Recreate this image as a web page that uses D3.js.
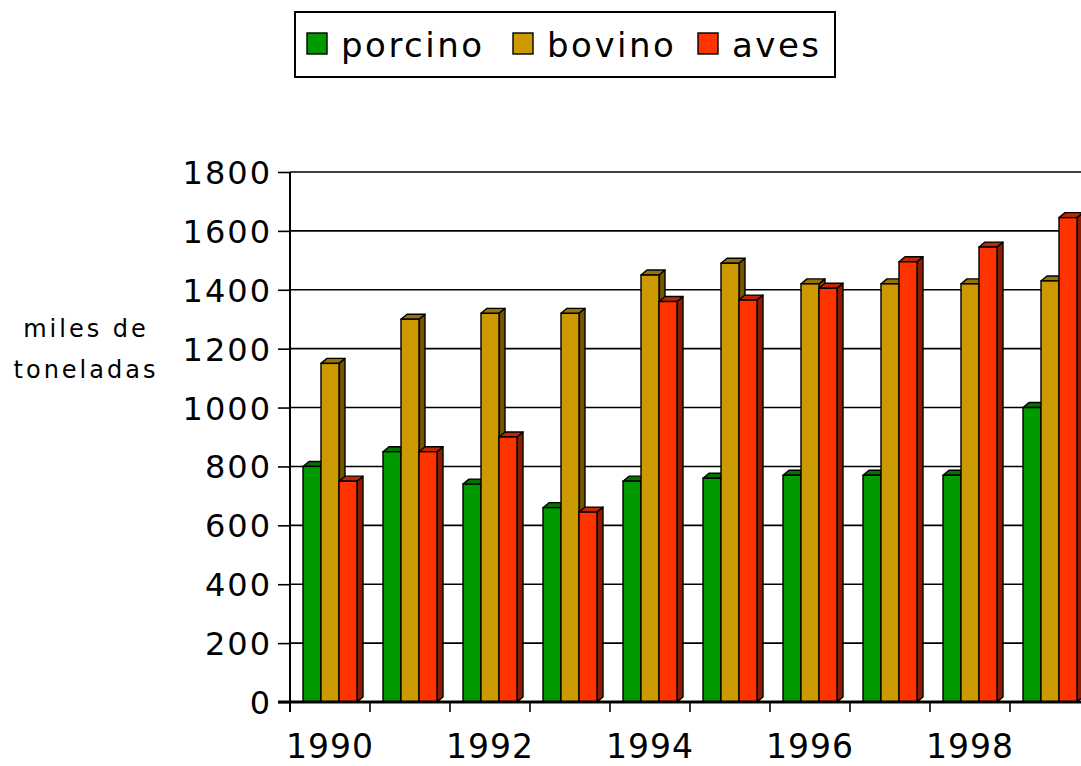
<!DOCTYPE html>
<html>
<head>
<meta charset="utf-8">
<script src="https://cdn.jsdelivr.net/npm/d3@7"></script>
<style>
  body { margin: 0; background: #fff; }
  svg text { font-family: "DejaVu Sans", Verdana, sans-serif; fill: #000; }
</style>
</head>
<body>
<div id="chart"></div>
<script>
// data
var years = ["1990", "1991", "1992", "1993", "1994", "1995", "1996", "1997", "1998", "1999"];
var series = ["porcino", "bovino", "aves"];
var porcino = [800, 850, 740, 660, 750, 760, 770, 770, 770, 1000];
var bovino = [1150, 1300, 1320, 1320, 1450, 1490, 1420, 1420, 1420, 1430];
var aves = [750, 850, 900, 645, 1360, 1365, 1405, 1495, 1545, 1645];
var yTicks = [0, 200, 400, 600, 800, 1000, 1200, 1400, 1600, 1800];
var xLabels = ["1990", "1992", "1994", "1996", "1998"];
var colors = ["#009900", "#cc9900", "#ff3300"];

var W = 1081, H = 766,
	LEFT = 290, TOP = 172, BOTTOM = 702,
	DX = 6, DY = 5;

var values = { porcino: porcino, bovino: bovino, aves: aves };

var svg = d3.select("#chart").append("svg")
	.attr("width", W).attr("height", H);

var x0 = d3.scaleBand().domain(years).range([LEFT, LEFT + 80 * years.length]);
var x1 = d3.scaleBand().domain(series).range([13, 67]);
var y = d3.scaleLinear().domain([0, 1800]).range([BOTTOM, TOP]);
var color = d3.scaleOrdinal().domain(series).range(colors);

// gridlines
svg.append("g").selectAll("line")
	.data(yTicks.filter(function(d) { return d > 0; }))
	.enter().append("line")
	.attr("x1", LEFT).attr("x2", W)
	.attr("y1", function(d) { return y(d); })
	.attr("y2", function(d) { return y(d); })
	.attr("stroke", "#000").attr("stroke-width", 1.6);

// y axis
var yAxis = d3.axisLeft(y).tickValues(yTicks).tickFormat(d3.format("d"))
	.tickSize(12).tickPadding(8);
var gy = svg.append("g")
	.attr("transform", "translate(" + LEFT + ",0)")
	.call(yAxis);
gy.select(".domain").remove();
gy.selectAll(".tick line").attr("stroke", "#000").attr("stroke-width", 1.6);
gy.selectAll(".tick text")
	.attr("font-size", 32).attr("letter-spacing", 2)
	.attr("dx", 2).attr("dy", "0.36em");
svg.append("line")
	.attr("x1", LEFT).attr("x2", LEFT)
	.attr("y1", TOP).attr("y2", BOTTOM + 10)
	.attr("stroke", "#000").attr("stroke-width", 2);

// bars (3d-ish)
var groups = svg.append("g").selectAll("g")
	.data(years)
	.enter().append("g")
	.attr("transform", function(d) { return "translate(" + x0(d) + ",0)"; });

groups.each(function(yr, i) {
	var g = d3.select(this);
	series.forEach(function(s) {
		var v = values[s][i],
			bx = x1(s), bw = x1.bandwidth(),
			top = y(v), c = d3.color(color(s));
		// side face
		g.append("path")
			.attr("d", "M" + (bx + bw) + "," + top + "L" + (bx + bw + DX) + "," + (top - DY) +
				"L" + (bx + bw + DX) + "," + (BOTTOM - DY) + "L" + (bx + bw) + "," + BOTTOM + "Z")
			.attr("fill", c.darker(1.6)).attr("stroke", "#000").attr("stroke-width", 1.4)
			.attr("stroke-linejoin", "round");
		// top face
		g.append("path")
			.attr("d", "M" + bx + "," + top + "L" + (bx + DX) + "," + (top - DY) +
				"L" + (bx + bw + DX) + "," + (top - DY) + "L" + (bx + bw) + "," + top + "Z")
			.attr("fill", c.darker(0.8)).attr("stroke", "#000").attr("stroke-width", 1.4)
			.attr("stroke-linejoin", "round");
		// front
		g.append("rect")
			.attr("x", bx).attr("y", top)
			.attr("width", bw).attr("height", BOTTOM - top)
			.attr("fill", color(s)).attr("stroke", "#000").attr("stroke-width", 1.4);
	});
});

// x axis
var gx = svg.append("g")
	.attr("transform", "translate(0," + BOTTOM + ")");
gx.append("line")
	.attr("x1", LEFT - 12).attr("x2", W)
	.attr("stroke", "#000").attr("stroke-width", 3);
gx.selectAll(".xt")
	.data(years)
	.enter().append("line")
	.attr("class", "xt")
	.attr("x1", function(d) { return x0(d); })
	.attr("x2", function(d) { return x0(d); })
	.attr("y1", 0).attr("y2", 10)
	.attr("stroke", "#000").attr("stroke-width", 1.6);
gx.selectAll("text")
	.data(xLabels)
	.enter().append("text")
	.attr("x", function(d) { return x0(d) + x0.bandwidth() / 2; })
	.attr("y", 56)
	.attr("text-anchor", "middle")
	.attr("font-size", 33).attr("letter-spacing", 1)
	.text(function(d) { return d; });

// y title
svg.append("text")
	.attr("x", 86).attr("y", 337)
	.attr("text-anchor", "middle").attr("font-size", 24).attr("letter-spacing", 3)
	.text("miles de");
svg.append("text")
	.attr("x", 86).attr("y", 378)
	.attr("text-anchor", "middle").attr("font-size", 24).attr("letter-spacing", 3)
	.text("toneladas");

// legend
var legend = svg.append("g");
legend.append("rect")
	.attr("x", 295).attr("y", 12).attr("width", 540).attr("height", 65)
	.attr("fill", "#fff").attr("stroke", "#000").attr("stroke-width", 2);
var legX = [307, 513, 698];
var items = legend.selectAll(".item")
	.data(series)
	.enter().append("g")
	.attr("class", "item")
	.attr("transform", function(d, i) { return "translate(" + legX[i] + ",0)"; });
items.append("rect")
	.attr("x", 0).attr("y", 33).attr("width", 20).attr("height", 21)
	.attr("fill", function(d) { return color(d); })
	.attr("stroke", "#000").attr("stroke-width", 1.4);
items.append("text")
	.attr("x", 34).attr("y", 57)
	.attr("font-size", 34).attr("letter-spacing", 2.5)
	.text(function(d) { return d; });
</script>
</body>
</html>
